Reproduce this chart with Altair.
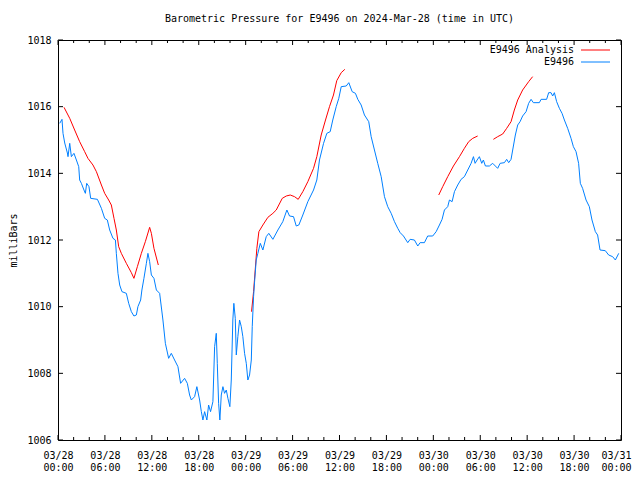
import altair as alt
import pandas as pd
from datetime import datetime, timedelta, timezone

TITLE = "Barometric Pressure for E9496 on 2024-Mar-28 (time in UTC)"
Y_TITLE = "milliBars"
SERIES = ["E9496 Analysis", "E9496"]
COLORS = ["#ff0000", "#0080ff"]

# observed series: hours since 2024-03-28 00:00 UTC, pressure in mbar
obs_hours = [0.22, 0.51, 0.64, 0.86, 1.20, 1.28, 1.50, 1.71, 2.04, 2.35, 2.65, 2.77, 2.99, 3.32, 3.50,
             3.67, 3.96, 4.18, 5.04, 5.55, 5.97, 6.31, 6.61, 7.03, 7.34, 7.46, 7.67, 7.89, 8.18, 8.74,
             9.04, 9.38, 9.71, 10.02, 10.22, 10.57, 10.73, 10.99, 11.30, 11.50, 11.72, 11.94, 12.27,
             12.58, 13.00, 13.42, 13.73, 14.15, 14.49, 14.91, 15.34, 15.68, 16.19, 16.54, 16.83, 17.05,
             17.47, 17.76, 18.11, 18.33, 18.53, 18.75, 19.04, 19.26, 19.51, 19.81, 20.03, 20.24, 20.37,
             20.54, 20.70, 20.88, 21.09, 21.30, 21.52, 21.73, 21.98, 22.16, 22.36, 22.49, 22.67, 22.80,
             23.00, 23.22, 23.44, 23.64, 23.86, 24.08, 24.28, 24.50, 24.72, 24.84, 25.01, 25.14, 25.35,
             25.56, 25.87, 26.20, 26.63, 26.96, 27.48, 28.12, 28.75, 29.27, 29.61, 30.12, 30.47, 30.80,
             31.31, 31.95, 32.68, 33.10, 33.44, 33.96, 34.38, 34.81, 35.14, 35.58, 35.91, 36.22, 36.86,
             37.19, 37.62, 38.04, 38.34, 38.77, 39.19, 39.74, 40.05, 40.47, 40.89, 41.33, 41.75, 42.17,
             42.61, 43.03, 43.45, 43.76, 44.18, 44.73, 45.03, 45.58, 46.01, 46.31, 46.86, 47.28, 47.92,
             48.36, 48.78, 49.12, 49.42, 49.84, 50.06, 50.40, 50.70, 51.12, 51.55, 51.97, 52.40, 52.83,
             53.13, 53.34, 53.60, 53.89, 54.19, 54.40, 54.66, 55.17, 55.59, 56.23, 56.54, 57.09, 57.38,
             57.64, 57.94, 58.15, 58.49, 58.79, 59.09, 59.42, 59.86, 60.19, 60.50, 60.79, 61.56, 61.78,
             62.49, 62.75, 63.05, 63.26, 63.48, 63.77, 64.12, 64.46, 64.76, 65.18, 65.61, 65.91, 66.25,
             66.58, 66.80, 67.09, 67.53, 67.95, 68.29, 68.72, 69.01, 69.32, 69.99, 70.42, 70.93, 71.28,
             71.71]
obs_values = [1015.50, 1015.62, 1015.20, 1014.91, 1014.61, 1014.50, 1014.90, 1014.50, 1014.60, 1014.40,
              1014.20, 1013.80, 1013.70, 1013.50, 1013.40, 1013.70, 1013.60, 1013.25, 1013.22, 1012.95,
              1012.65, 1012.60, 1012.30, 1012.05, 1012.00, 1011.60, 1011.00, 1010.65, 1010.45, 1010.40,
              1010.10, 1009.85, 1009.72, 1009.75, 1010.00, 1010.20, 1010.50, 1010.85, 1011.30, 1011.60,
              1011.35, 1010.95, 1010.85, 1010.50, 1010.40, 1009.60, 1008.90, 1008.45, 1008.60, 1008.40,
              1008.20, 1007.70, 1007.85, 1007.70, 1007.35, 1007.20, 1007.30, 1007.60, 1007.20, 1006.85,
              1006.60, 1006.85, 1006.60, 1007.05, 1006.85, 1007.15, 1008.80, 1009.20, 1008.30, 1007.10,
              1006.60, 1007.35, 1007.60, 1007.40, 1007.50, 1007.25, 1007.00, 1007.80, 1009.60, 1010.10,
              1009.65, 1008.55, 1009.10, 1009.60, 1009.40, 1009.10, 1008.60, 1008.30, 1007.80, 1007.95,
              1008.40, 1009.40, 1010.30, 1010.75, 1011.40, 1011.60, 1011.90, 1011.70, 1012.10, 1012.20,
              1012.02, 1012.30, 1012.55, 1012.90, 1012.72, 1012.70, 1012.42, 1012.45, 1012.75, 1013.15,
              1013.50, 1013.80, 1014.40, 1014.90, 1015.20, 1015.25, 1015.60, 1016.00, 1016.25, 1016.60,
              1016.62, 1016.72, 1016.45, 1016.40, 1016.22, 1016.05, 1015.75, 1015.55, 1015.10, 1014.70,
              1014.30, 1013.90, 1013.30, 1013.00, 1012.80, 1012.55, 1012.35, 1012.22, 1012.12, 1011.92,
              1012.02, 1012.00, 1011.82, 1011.92, 1011.92, 1012.12, 1012.12, 1012.25, 1012.45, 1012.62,
              1012.90, 1013.00, 1013.20, 1013.15, 1013.45, 1013.65, 1013.82, 1013.90, 1014.10, 1014.30,
              1014.50, 1014.30, 1014.40, 1014.50, 1014.30, 1014.40, 1014.22, 1014.22, 1014.30, 1014.15,
              1014.30, 1014.32, 1014.42, 1014.32, 1014.42, 1014.70, 1015.15, 1015.45, 1015.55, 1015.72,
              1015.85, 1016.10, 1016.22, 1016.12, 1016.12, 1016.22, 1016.22, 1016.42, 1016.42, 1016.32,
              1016.42, 1016.15, 1015.95, 1015.80, 1015.60, 1015.35, 1015.05, 1014.80, 1014.65, 1014.30,
              1013.70, 1013.55, 1013.20, 1013.00, 1012.60, 1012.25, 1012.15, 1011.70, 1011.68, 1011.55,
              1011.50, 1011.40, 1011.60]

# analysis series, drawn as separate segments (gaps between them)
ana1_hours = [0.77, 1.50, 2.13, 2.77, 3.41, 3.83, 4.47, 4.91, 5.55, 5.97, 6.48, 6.82, 7.16, 7.46, 7.76,
              8.10, 8.74, 9.38, 9.71, 10.15, 10.66, 11.17, 11.72, 11.94, 12.27, 12.83]
ana1_values = [1015.98, 1015.65, 1015.30, 1014.95, 1014.65, 1014.45, 1014.25, 1014.05, 1013.65, 1013.40,
               1013.20, 1013.05, 1012.65, 1012.30, 1011.80, 1011.60, 1011.30, 1011.02, 1010.85, 1011.20,
               1011.60, 1011.95, 1012.38, 1012.20, 1011.75, 1011.25]
ana2_hours = [24.75, 25.01, 25.43, 25.69, 26.20, 26.84, 27.48, 27.91, 28.68, 29.19, 29.70, 30.25, 30.72,
              31.31, 31.95, 32.68, 33.10, 33.66, 34.21, 34.72, 35.23, 35.65, 36.22, 36.68]
ana2_values = [1009.85, 1010.45, 1011.75, 1012.25, 1012.45, 1012.68, 1012.80, 1012.90, 1013.25, 1013.32,
               1013.35, 1013.30, 1013.22, 1013.45, 1013.75, 1014.15, 1014.50, 1015.15, 1015.60, 1016.00,
               1016.35, 1016.78, 1017.02, 1017.12]
ana3_hours = [48.69, 49.20, 49.84, 50.57, 51.34, 51.97, 52.52, 53.04, 53.67]
ana3_values = [1013.35, 1013.60, 1013.90, 1014.22, 1014.50, 1014.75, 1014.95, 1015.05, 1015.12]
ana4_hours = [55.68, 56.23, 56.87, 57.38, 57.94, 58.36, 58.79, 59.42, 60.19, 60.70]
ana4_values = [1015.02, 1015.10, 1015.18, 1015.35, 1015.55, 1015.90, 1016.20, 1016.50, 1016.75, 1016.90]

y_ticks = [1006, 1008, 1010, 1012, 1014, 1016, 1018]
major_hours = list(range(0, 73, 6))
minor_hours = [h for h in range(0, 73, 2) if h % 6 != 0]

START = datetime(2024, 3, 28, tzinfo=timezone.utc)


def stamp(h):
    return (START + timedelta(hours=h)).strftime("%Y-%m-%dT%H:%M:%SZ")


obs_df = pd.DataFrame({"t": [stamp(h) for h in obs_hours], "v": obs_values,
                       "series": SERIES[1], "seg": "obs"})
ana_rows = []
for i, (hs, vs) in enumerate([(ana1_hours, ana1_values), (ana2_hours, ana2_values),
                              (ana3_hours, ana3_values), (ana4_hours, ana4_values)]):
    for h, v in zip(hs, vs):
        ana_rows.append({"t": stamp(h), "v": v, "series": SERIES[0], "seg": f"a{i}"})
ana_df = pd.DataFrame(ana_rows)

major_df = pd.DataFrame({"t": [stamp(h) for h in major_hours]})
minor_df = pd.DataFrame({"t": [stamp(h) for h in minor_hours]})
ytick_df = pd.DataFrame({"v": y_ticks})
one = pd.DataFrame({"a": [0]})

W, H = 563, 400
FONT = "DejaVu Sans Mono"


def dt(h):
    d = START + timedelta(hours=h)
    return alt.DateTime(year=d.year, month=d.month, date=d.day, hours=d.hour, utc=True)


xscale = alt.Scale(type="utc", domain=[dt(0), dt(72)])
yscale = alt.Scale(domain=[1006, 1018], nice=False, zero=False)
cscale = alt.Scale(domain=SERIES, range=COLORS)

x_axis = alt.Axis(values=[dt(h) for h in major_hours], ticks=False, domain=False, grid=False,
                  labelExpr="[utcFormat(datum.value, '%m/%d'), utcFormat(datum.value, '%H:%M')]",
                  labelBaseline="top", labelPadding=10, labelLineHeight=12, labelFlush=False,
                  labelOverlap=False, title=None, labelAngle=0,
                  labelOffset={"condition": {"test": "datum.value >= utc(2024, 2, 31)", "value": -5},
                               "value": 0})
y_axis = alt.Axis(values=y_ticks, ticks=False, domain=False, grid=False, format="d",
                  labelPadding=7, title=Y_TITLE, titleAngle=270, titleX=-45, titleY=H / 2,
                  titleAlign="center", titleBaseline="middle", titleFont=FONT, titleFontSize=10,
                  titleFontWeight="normal")

X = alt.X("t:T", scale=xscale, axis=x_axis)
Y = alt.Y("v:Q", scale=yscale, axis=y_axis)

ana_line = alt.Chart(ana_df).mark_line(strokeWidth=1).encode(
    x=X, y=Y,
    color=alt.Color("series:N", scale=cscale, legend=None),
    detail="seg:N",
)
obs_line = alt.Chart(obs_df).mark_line(strokeWidth=1).encode(
    x=X, y=Y,
    color=alt.Color("series:N", scale=cscale, legend=None),
    detail="seg:N",
)

tick_layers = []
for df, ln in [(major_df, 5), (minor_df, 3)]:
    tick_layers.append(alt.Chart(df).mark_rule(color="black", strokeWidth=1).encode(
        x=X, y=alt.value(H), y2=alt.value(H - ln)))
    tick_layers.append(alt.Chart(df).mark_rule(color="black", strokeWidth=1).encode(
        x=X, y=alt.value(0), y2=alt.value(ln)))
for x0, x1 in [(0, 5), (W, W - 5)]:
    tick_layers.append(alt.Chart(ytick_df).mark_rule(color="black", strokeWidth=1).encode(
        y=Y, x=alt.value(x0), x2=alt.value(x1)))

title = alt.Chart(one).mark_text(font=FONT, fontSize=10, align="center", baseline="middle",
                                 color="black").encode(
    x=alt.value(W / 2), y=alt.value(-21), text=alt.value(TITLE))

legend_layers = []
for i, (name, col) in enumerate(zip(SERIES, COLORS)):
    yy = 10 + 12 * i
    legend_layers.append(alt.Chart(one).mark_text(font=FONT, fontSize=10, align="right",
                                                  baseline="middle", color="black").encode(
        x=alt.value(516), y=alt.value(yy), text=alt.value(name)))
    legend_layers.append(alt.Chart(one).mark_rule(color=col, strokeWidth=1).encode(
        x=alt.value(523), x2=alt.value(552), y=alt.value(yy)))

chart = alt.layer(ana_line, obs_line, *tick_layers, title, *legend_layers).properties(
    width=W, height=H, autosize="none",
    padding={"left": 50, "top": 32, "right": 11, "bottom": 32},
).configure_view(stroke="black", strokeWidth=1).configure_axis(
    labelFont=FONT, labelFontSize=10, labelColor="black", titleColor="black"
)

chart.save("out.html", embed_options={"renderer": "svg", "actions": False})
